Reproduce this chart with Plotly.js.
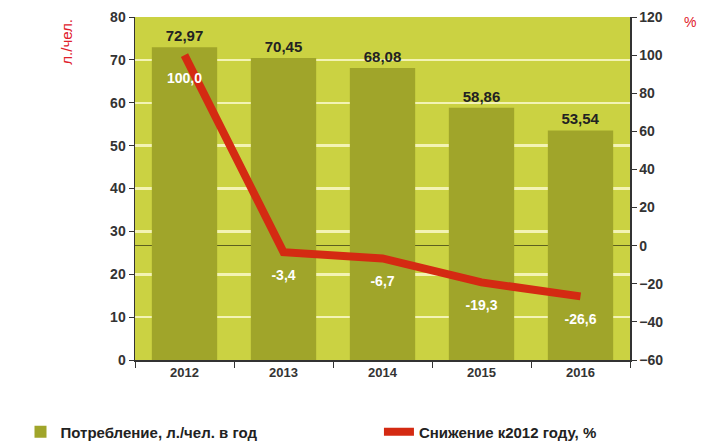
<!DOCTYPE html>
<html>
<head>
<meta charset="utf-8">
<script src="https://cdn.plot.ly/plotly-3.0.1.min.js"></script>
<style>html,body{margin:0;padding:0;background:#fff;}#chart{width:707px;height:443px;}</style>
</head>
<body>
<div id="chart"></div>
<script>
const years = ['2012', '2013', '2014', '2015', '2016'];
const consumption = [72.97, 70.45, 68.08, 58.86, 53.54];
const decline = [100.0, -3.4, -6.7, -19.3, -26.6];
const barName = 'Потребление, л./чел. в год';
const lineName = 'Снижение к2012 году, %';
const leftTitle = 'л./чел.';
const rightTitle = '%';

const FONT = 'Liberation Sans Narrow, Liberation Sans, Arial, sans-serif';
const LEGFONT = {family: FONT, size: 15, color: '#222', weight: 'bold'};

const traces = [
  {
    type: 'bar', x: years, y: consumption, name: barName,
    marker: {color: '#a0a52a'}, width: 0.66,
    text: consumption.map(v => v.toFixed(2).replace('.', ',')),
    textposition: 'outside', cliponaxis: false,
    textfont: {family: FONT, size: 15, color: '#222', weight: 'bold'},
    yaxis: 'y', hoverinfo: 'skip', legend: 'legend'
  },
  {
    type: 'scatter', mode: 'lines+markers+text', x: years, y: decline, name: lineName,
    line: {color: '#d42a12', width: 8},
    marker: {size: 26, color: 'rgba(0,0,0,0)'},
    text: decline.map(v => v.toFixed(1).replace('.', ',')),
    textposition: 'bottom center',
    textfont: {family: FONT, size: 14, color: '#ffffff', weight: 'bold'},
    yaxis: 'y2', cliponaxis: false, hoverinfo: 'skip', legend: 'legend2'
  }
];

const layout = {
  width: 707, height: 443,
  margin: {l: 135, r: 77, t: 17, b: 83, autoexpand: false},
  paper_bgcolor: '#ffffff',
  plot_bgcolor: '#cbd242',
  showlegend: true,
  font: {family: FONT, size: 13, color: '#333'},
  xaxis: {
    type: 'category', tickson: 'boundaries', ticks: 'outside', ticklen: 6,
    tickcolor: '#333', showline: true, linecolor: '#333', linewidth: 1.5,
    showgrid: false, automargin: false, tickangle: 0,
    tickfont: {family: FONT, size: 13, color: '#333', weight: 'bold'}
  },
  yaxis: {
    range: [0, 80], dtick: 10, ticks: 'outside', ticklen: 5, tickcolor: '#333',
    showline: true, linecolor: '#333', linewidth: 1.5, automargin: false,
    showgrid: true, gridcolor: '#f3f3b4', gridwidth: 2.5, zeroline: false,
    tickfont: {family: FONT, size: 14, color: '#333', weight: 'bold'}
  },
  yaxis2: {
    overlaying: 'y', side: 'right', range: [-60, 120], dtick: 20,
    ticks: 'outside', ticklen: 5, tickcolor: '#333', automargin: false,
    showline: true, linecolor: '#333', linewidth: 1.5,
    showgrid: false, zeroline: true, zerolinecolor: '#5d6020', zerolinewidth: 1.5,
    tickfont: {family: FONT, size: 14, color: '#333', weight: 'bold'}
  },
  legend: {
    xref: 'container', yref: 'container',
    x: 0.029, y: 0.025, xanchor: 'left', yanchor: 'middle',
    font: LEGFONT, bgcolor: 'rgba(0,0,0,0)'
  },
  legend2: {
    xref: 'container', yref: 'container',
    x: 0.536, y: 0.025, xanchor: 'left', yanchor: 'middle',
    font: LEGFONT, bgcolor: 'rgba(0,0,0,0)'
  },
  annotations: [
    {text: leftTitle, xref: 'paper', yref: 'paper', x: -0.14, y: 1.0,
     xanchor: 'center', yanchor: 'top', textangle: -90, showarrow: false,
     font: {family: FONT, size: 15, color: '#e0202a'}},
    {text: rightTitle, xref: 'paper', yref: 'paper', x: 1.105, y: 0.985,
     xanchor: 'left', yanchor: 'middle', showarrow: false,
     font: {family: FONT, size: 14, color: '#e0202a'}}
  ]
};

Plotly.newPlot('chart', traces, layout, {displayModeBar: false, staticPlot: true});
</script>
</body>
</html>
